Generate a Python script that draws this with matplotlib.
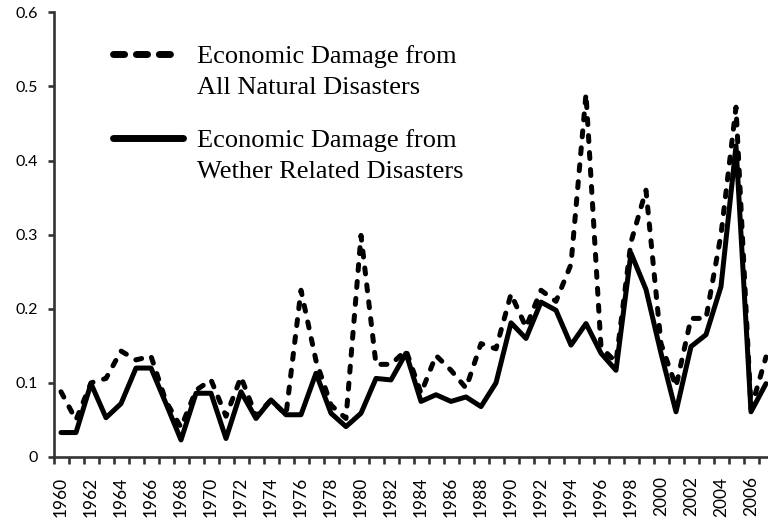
import matplotlib
matplotlib.use("Agg")
import matplotlib.pyplot as plt
import numpy as np
from matplotlib.ticker import FixedLocator

years = np.arange(1960, 2008)

all_disasters = [0.088, 0.050, 0.100, 0.106, 0.143, 0.131, 0.136, 0.075, 0.040, 0.090,
                 0.104, 0.055, 0.108, 0.055, 0.077, 0.057, 0.225, 0.130, 0.070, 0.052,
                 0.299, 0.125, 0.125, 0.144, 0.086, 0.137, 0.117, 0.093, 0.153, 0.146,
                 0.220, 0.175, 0.225, 0.210, 0.260, 0.490, 0.148, 0.128, 0.290, 0.360,
                 0.153, 0.095, 0.187, 0.187, 0.300, 0.472, 0.065, 0.135]

weather = [0.033, 0.033, 0.099, 0.053, 0.072, 0.120, 0.120, 0.072, 0.023, 0.086,
           0.086, 0.025, 0.088, 0.052, 0.077, 0.057, 0.057, 0.113, 0.059, 0.041,
           0.059, 0.106, 0.104, 0.140, 0.075, 0.084, 0.075, 0.081, 0.068, 0.100,
           0.181, 0.160, 0.209, 0.198, 0.151, 0.180, 0.140, 0.117, 0.275, 0.226,
           0.140, 0.061, 0.149, 0.165, 0.230, 0.420, 0.061, 0.099]

y_ticks = [0, 0.1, 0.2, 0.3, 0.4, 0.5, 0.6]
y_labels = ["0", "0.1", "0.2", "0.3", "0.4", "0.5", "0.6"]

label_all = "Economic Damage from\nAll Natural Disasters"
label_weather = "Economic Damage from\nWether Related Disasters"

W, H = 768, 522
fig = plt.figure(figsize=(W / 100, H / 100), dpi=100)

# plot area runs past the right edge of the picture, like the original crop
x0, y0, y1 = 53.5, 457.0, 12.3
ax = fig.add_axes([x0 / W, (H - y0) / H, 1 - x0 / W, (y0 - y1) / H])

ax.plot(years, all_disasters, color="black", lw=3.6, linestyle=(0, (1.2, 2.2)),
        dash_capstyle="round", solid_joinstyle="round", dash_joinstyle="round")
ax.plot(years, weather, color="black", lw=3.6, solid_capstyle="round",
        solid_joinstyle="round")

ax.set_xlim(1959.5, 1959.5 + (W - x0) / 15.0)
ax.set_ylim(0, 0.6)

for s in ["top", "right"]:
    ax.spines[s].set_visible(False)
for s in ["left", "bottom"]:
    ax.spines[s].set_color("#333333")
    ax.spines[s].set_linewidth(1.9)

ax.yaxis.set_major_locator(FixedLocator(y_ticks))
ax.set_yticklabels(y_labels, fontdict={"family": "Lato", "size": 11.5})
ax.tick_params(axis="y", direction="out", length=4, width=1.9, color="#333333", pad=7)

ax.xaxis.set_major_locator(FixedLocator(years[::2]))
ax.set_xticklabels([str(y) for y in years[::2]], rotation=90,
                   fontdict={"family": "Lato", "size": 12.5})
ax.xaxis.set_minor_locator(FixedLocator(np.arange(1959.5, 2008, 1.0)))
ax.tick_params(axis="x", which="major", length=0, pad=14)
ax.tick_params(axis="x", which="minor", direction="out", length=5, width=1.9,
               color="#333333")

# legend drawn by hand so the key sits on the first text line
to_fig = lambda px, py: (px / W, 1 - py / H)
leg_font = {"family": "Liberation Serif", "size": 19}
for (lx0, lx1, ly), ls, txt in [((113, 177, 54), (0, (1.6, 1.7)), label_all),
                                ((113, 183, 138), "-", label_weather)]:
    a, b = to_fig(lx0, ly)
    c, _ = to_fig(lx1, ly)
    fig.add_artist(plt.Line2D([a, c], [b, b], transform=fig.transFigure, color="black",
                              lw=5, linestyle=ls, dash_capstyle="round",
                              solid_capstyle="round"))
    tx, ty = to_fig(197, ly - 9)
    fig.text(tx, ty, txt, ha="left", va="top", linespacing=1.52, **leg_font)

fig.savefig("out.png", dpi=100)
